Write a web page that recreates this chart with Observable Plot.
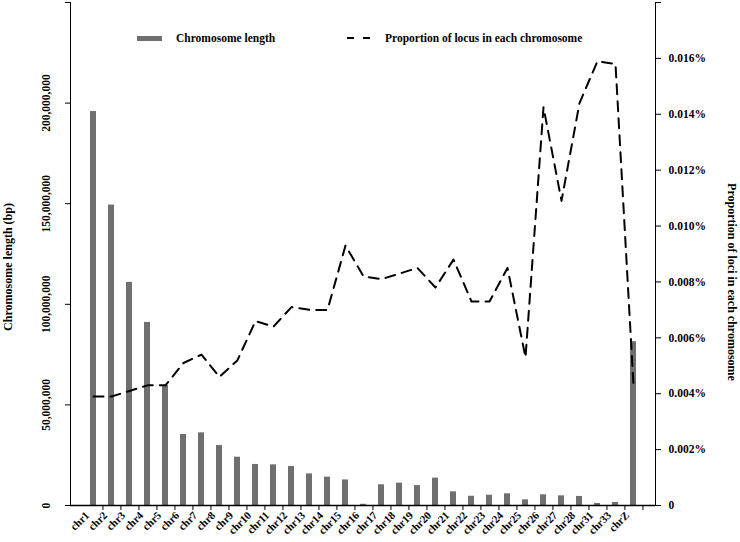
<!DOCTYPE html>
<html>
<head>
<meta charset="utf-8">
<script src="https://cdn.jsdelivr.net/npm/d3@7"></script>
<script src="https://cdn.jsdelivr.net/npm/@observablehq/plot@0.6"></script>
<style>
  body { margin: 0; background: #fff; }
  #wrap { position: relative; width: 740px; height: 542px; font-family: "Liberation Serif", "Times New Roman", serif; font-weight: bold; color: #000; }
  #wrap > svg { position: absolute; left: 0; top: 0; }
  .legtext { position: absolute; font-size: 11.5px; line-height: 14px; white-space: nowrap; }
</style>
</head>
<body>
<div id="wrap"></div>
<script>
// ---- data ----
const chromosomes = ["chr1","chr2","chr3","chr4","chr5","chr6","chr7","chr8","chr9","chr10",
  "chr11","chr12","chr13","chr14","chr15","chr16","chr17","chr18","chr19","chr20",
  "chr21","chr22","chr23","chr24","chr25","chr26","chr27","chr28","chr31","chr33","chrZ"];
const lengths = [195.8e6, 149.3e6, 110.9e6, 91.0e6, 59.6e6, 35.3e6, 36.1e6, 29.8e6, 24.0e6, 20.4e6,
  20.2e6, 19.4e6, 15.7e6, 14.1e6, 12.7e6, 0.6e6, 10.3e6, 11.1e6, 9.9e6, 13.6e6,
  6.8e6, 4.6e6, 5.1e6, 5.8e6, 2.8e6, 5.3e6, 4.8e6, 4.5e6, 1.0e6, 1.5e6, 81.4e6];
// proportion of loci, in percent
const proportions = [0.0039, 0.0039, 0.0041, 0.0043, 0.0043, 0.0051, 0.0054, 0.0046, 0.0052, 0.0066,
  0.0064, 0.0071, 0.0070, 0.0070, 0.0093, 0.0082, 0.0081, 0.0083, 0.0085, 0.0078,
  0.0088, 0.0073, 0.0073, 0.0085, 0.0053, 0.01425, 0.0109, 0.0144, 0.0159, 0.0158, 0.0043];
const leftTicks = [0, 50e6, 100e6, 150e6, 200e6, 250e6];
const rightTicks = [0, 0.002, 0.004, 0.006, 0.008, 0.010, 0.012, 0.014, 0.016, 0.018];
const leftTitle = "Chromosome length (bp)";
const rightTitle = "Proportion of loci in each chromosome";
const legendBar = "Chromosome length";
const legendLine = "Proportion of locus in each chromosome";

const barData = chromosomes.map((c, i) => ({chr: c, len: lengths[i]}));
const lineData = chromosomes.map((c, i) => ({chr: c, p: proportions[i]}));

const W = 740, H = 542, ML = 70, MR = 85, MT = 2, MB = 37;
const step = (W - ML - MR) / chromosomes.length;
const font = `"Liberation Serif", "Times New Roman", serif`;
const baseStyle = {fontFamily: font, fontWeight: "bold", fontSize: "11.5px", background: "transparent", color: "#000", overflow: "visible"};

const fmtLeft = d => d === 0 ? "0" : d >= 250e6 ? "" : d3.format(",")(d);
const fmtRight = d => d === 0 ? "0" : d > 0.017 ? "" : d.toFixed(3) + "%";

const p1 = Plot.plot({
  width: W, height: H, marginLeft: ML, marginRight: MR, marginTop: MT, marginBottom: MB,
  style: baseStyle,
  x: {domain: chromosomes, type: "band", paddingInner: 0.68, paddingOuter: 0.34},
  y: {domain: [0, 250e6], line: true, ticks: leftTicks, tickFormat: fmtLeft, tickRotate: -90, tickSize: 5, tickPadding: 16, label: null},
  marks: [
    Plot.barY(barData, {x: "chr", y: "len", fill: "#6f6f6f"}),
    Plot.ruleY([0], {stroke: "#000", strokeWidth: 1.5}),
    Plot.axisX({tickSize: 0, tickRotate: -45, tickPadding: 8, fontSize: 11, dx: -6, label: null}),
    Plot.axisX({tickSize: 5, tickFormat: () => "", dx: step / 2, label: null}),
    Plot.text([leftTitle], {text: d => d, frameAnchor: "left", textAnchor: "middle", rotate: -90, dx: -62, dy: 13, fontSize: 12, fontWeight: "bold"})
  ]
});

const p2 = Plot.plot({
  width: W, height: H, marginLeft: ML, marginRight: MR, marginTop: MT, marginBottom: MB,
  style: baseStyle,
  x: {domain: chromosomes, type: "point", padding: 0.5, axis: null},
  y: {domain: [0, 0.018], axis: "right", line: true, ticks: rightTicks, tickFormat: fmtRight, tickSize: 5, tickPadding: 8, label: null},
  marks: [
    Plot.line(lineData, {x: "chr", y: "p", stroke: "#000", strokeWidth: 2, strokeDasharray: "10,7"}),
    Plot.text([rightTitle], {text: d => d, frameAnchor: "right", textAnchor: "middle", rotate: 90, dx: 76, dy: 28, fontSize: 12, fontWeight: "bold"})
  ]
});

const wrap = document.getElementById("wrap");
wrap.appendChild(p1);
wrap.appendChild(p2);

// legend
const leg = document.createElement("div");
leg.innerHTML = `
  <div style="position:absolute;left:137px;top:36px;width:25px;height:5px;background:#6f6f6f"></div>
  <div class="legtext" style="left:176px;top:31px">${legendBar}</div>
  <svg style="position:absolute;left:345px;top:33px" width="30" height="10"><line x1="2" y1="5" x2="26" y2="5" stroke="#000" stroke-width="2.2" stroke-dasharray="7,9"/></svg>
  <div class="legtext" style="left:385px;top:31px">${legendLine}</div>`;
wrap.appendChild(leg);
</script>
</body>
</html>
